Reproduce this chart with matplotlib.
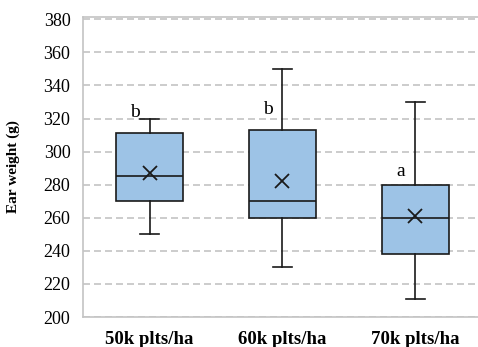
import matplotlib
matplotlib.use("Agg")
import matplotlib.pyplot as plt

# Summary statistics of ear weight per planting density
categories = ["50k plts/ha", "60k plts/ha", "70k plts/ha"]
whisker_low = [250, 230, 211]
q1 = [270, 260, 238]
median = [285, 270, 260]
q3 = [311, 313, 280]
whisker_high = [320, 350, 330]
mean = [287, 282, 261]
letters = ["b", "b", "a"]

y_ticks = list(range(200, 381, 20))

plt.rcParams["font.family"] = ["Liberation Serif", "DejaVu Serif"]

fig = plt.figure(figsize=(4.78, 3.47), dpi=100)
W, H = 478, 347
ax = fig.add_axes([83 / W, 1 - 317 / H, 399 / W, 300 / H])

stats = []
for i, name in enumerate(categories):
    stats.append(dict(label=name, whislo=whisker_low[i], q1=q1[i], med=median[i],
                      q3=q3[i], whishi=whisker_high[i], mean=mean[i], fliers=[]))

ink = "#1a1a1a"
positions = list(range(1, len(categories) + 1))
ax.bxp(stats, positions=positions, widths=0.5, patch_artist=True,
       showmeans=True, meanline=False,
       boxprops=dict(facecolor="#9DC3E6", edgecolor=ink, linewidth=1.2),
       medianprops=dict(color=ink, linewidth=1.2),
       whiskerprops=dict(color=ink, linewidth=1.2),
       capprops=dict(color=ink, linewidth=1.2),
       capwidths=0.15,
       meanprops=dict(marker="x", markeredgecolor=ink, markersize=9.5,
                      markeredgewidth=1.3))

# significance letters sit just above each box, left of the whisker
letter_gap = [10, 10, 5]
for i, letter in enumerate(letters):
    ax.text(positions[i] - 0.11, q3[i] + letter_gap[i], letter, ha="center",
            va="baseline", fontsize=14)

ax.set_xlim(0.5, 3.5)
ax.set_ylim(200, 381.4)
ax.set_yticks(y_ticks)
ax.set_yticklabels([str(t) for t in y_ticks], fontsize=13)
ax.set_xticks(positions)
ax.set_xticklabels(categories, fontsize=13.5, fontweight="bold")
ax.tick_params(axis="y", length=0, pad=9)
ax.tick_params(axis="x", length=0, pad=10)

ax.yaxis.grid(True, linestyle=(0, (4.2, 2.4)), color="#c4c4c4", linewidth=1.2)
ax.set_axisbelow(True)
for side in ["left", "top", "bottom", "right"]:
    ax.spines[side].set_color("#c4c4c4")
    ax.spines[side].set_linewidth(1.2)

ax.set_ylabel("Ear weight (g)", fontsize=11, fontweight="bold")
ax.yaxis.set_label_coords((20 - 83) / 399, 0.5)

fig.savefig("out.png", dpi=100)
